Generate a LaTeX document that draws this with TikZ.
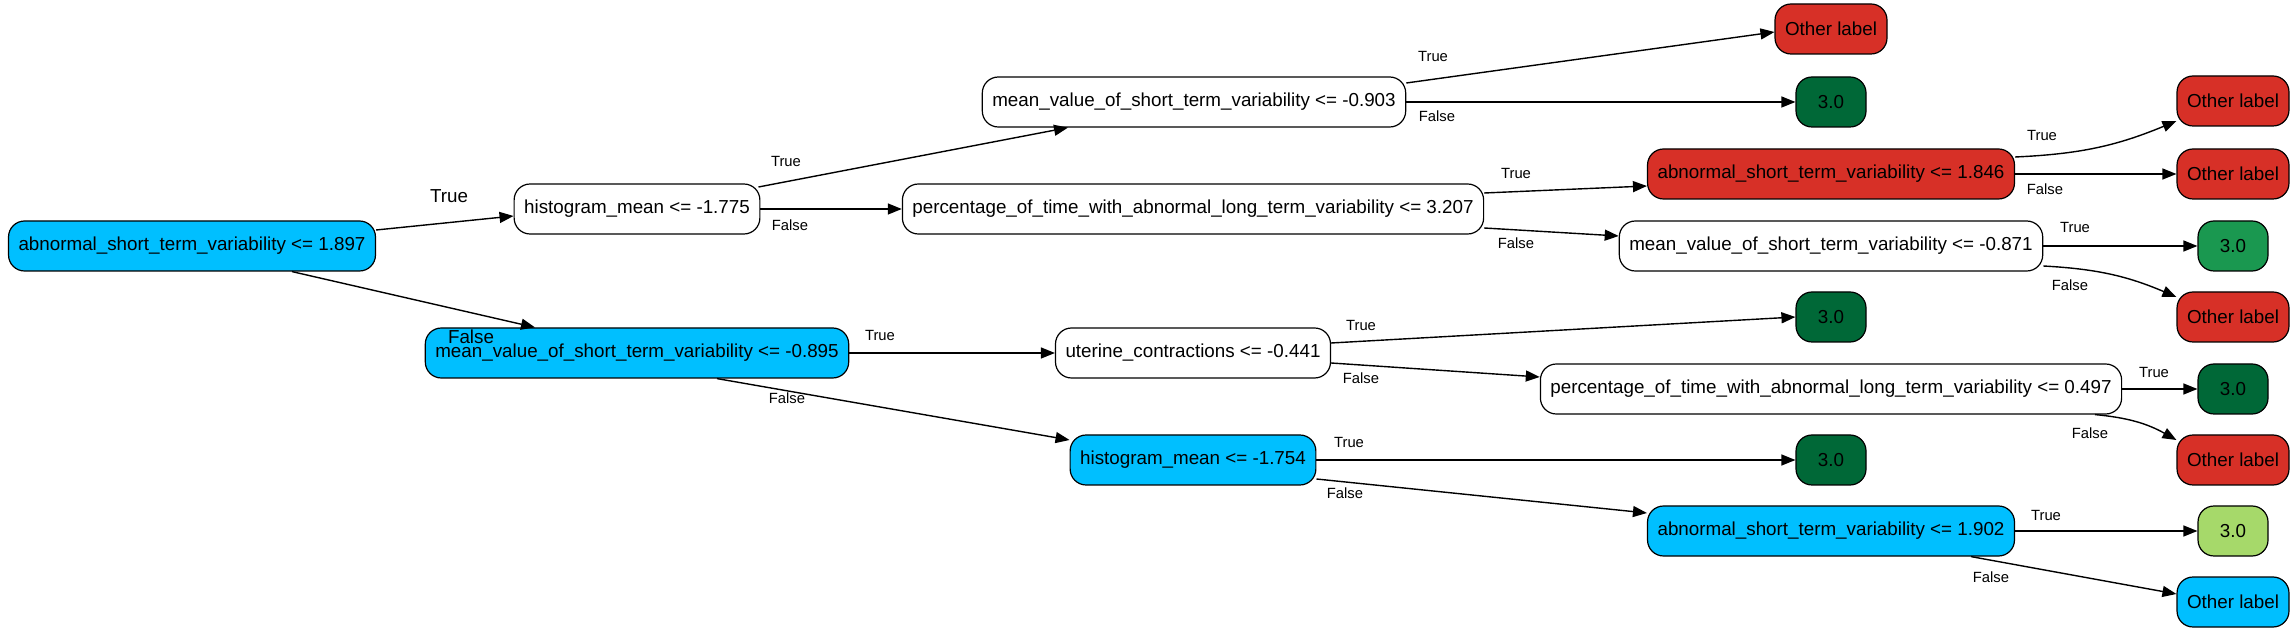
\documentclass[tikz,border=0pt]{standalone}
\usepackage{fontspec}
\setmainfont{Liberation Sans}
\usetikzlibrary{arrows.meta}

\definecolor{skyblue}{HTML}{00BFFF}
\definecolor{redleaf}{HTML}{D73027}
\definecolor{darkgreen}{HTML}{006837}
\definecolor{midgreen}{HTML}{1A9850}
\definecolor{lightgreen}{HTML}{A6D96A}

\tikzset{
    box/.style={draw, line width=0.6pt, rounded corners=8pt, minimum height=25pt,
        inner xsep=5pt, font=\fontsize{9.4}{11}\selectfont},
    leaf/.style={box, minimum width=35pt},
    lbl/.style={font=\fontsize{7.4}{9}\selectfont, inner sep=0pt},
    rootlbl/.style={font=\fontsize{9.4}{11}\selectfont, inner sep=0pt},
    edge/.style={line width=0.7pt, -{Triangle[length=7pt, width=5.5pt]}}
}

\begin{document}
\begin{tikzpicture}[x=0.5pt, y=-0.5pt]
    \useasboundingbox (0,0) rectangle (2295,635);

    % split nodes
    \node[box, fill=skyblue] (root) at (192,246) {abnormal\_short\_term\_variability <= 1.897};
    \node[box] (h1775) at (637,209) {histogram\_mean <= -1.775};
    \node[box, fill=skyblue] (m895) at (637,353) {mean\_value\_of\_short\_term\_variability <= -0.895};
    \node[box] (m903) at (1194,102) {mean\_value\_of\_short\_term\_variability <= -0.903};
    \node[box] (p3207) at (1193,209) {percentage\_of\_time\_with\_abnormal\_long\_term\_variability <= 3.207};
    \node[box] (uter) at (1193,353) {uterine\_contractions <= -0.441};
    \node[box, fill=skyblue] (h1754) at (1193,460) {histogram\_mean <= -1.754};
    \node[box, fill=redleaf] (a1846) at (1831,174) {abnormal\_short\_term\_variability <= 1.846};
    \node[box] (m871) at (1831,246) {mean\_value\_of\_short\_term\_variability <= -0.871};
    \node[box] (p0497) at (1831,389) {percentage\_of\_time\_with\_abnormal\_long\_term\_variability <= 0.497};
    \node[box, fill=skyblue] (a1902) at (1831,531) {abnormal\_short\_term\_variability <= 1.902};

    % leaves
    \node[leaf, fill=redleaf] (oA) at (1831,29) {Other label};
    \node[leaf, fill=darkgreen] (lA) at (1831,102) {3.0};
    \node[leaf, fill=darkgreen] (lB) at (1831,317) {3.0};
    \node[leaf, fill=darkgreen] (lC) at (1831,460) {3.0};
    \node[leaf, fill=redleaf] (oB) at (2233,101) {Other label};
    \node[leaf, fill=redleaf] (oC) at (2233,174) {Other label};
    \node[leaf, fill=midgreen] (lD) at (2233,246) {3.0};
    \node[leaf, fill=redleaf] (oD) at (2233,317) {Other label};
    \node[leaf, fill=darkgreen] (lE) at (2233,389) {3.0};
    \node[leaf, fill=redleaf] (oE) at (2233,460) {Other label};
    \node[leaf, fill=lightgreen] (lF) at (2233,531) {3.0};
    \node[leaf, fill=skyblue] (oF) at (2233,602) {Other label};

    % connectors
    \draw[edge] ([yshift=8pt]root.east) -- ([yshift=-3.5pt]h1775.west);
    \draw[edge] ([xshift=50pt]root.south) -- ([xshift=-51pt]m895.north);
    \draw[edge] ([xshift=-1pt, yshift=11pt]h1775.east) -- ([xshift=-63pt]m903.south);
    \draw[edge] (h1775.east) -- (p3207.west);
    \draw[edge] ([yshift=9.5pt]m903.east) -- ([yshift=-1.5pt]oA.west);
    \draw[edge] (m903.east) -- (lA.west);
    \draw[edge] ([yshift=8pt]p3207.east) -- ([yshift=-6pt]a1846.west);
    \draw[edge] ([yshift=-9.5pt]p3207.east) -- ([yshift=5pt]m871.west);
    \draw[edge] ([yshift=8.5pt]a1846.east) to[bend right=10] ([yshift=-10pt]oB.west);
    \draw[edge] (a1846.east) -- (oC.west);
    \draw[edge] (m871.east) -- (lD.west);
    \draw[edge] ([yshift=-10pt]m871.east) to[bend left=10] ([yshift=10pt]oD.west);
    \draw[edge] (m895.east) -- (uter.west);
    \draw[edge] ([xshift=40pt]m895.south) -- ([yshift=10pt]h1754.west);
    \draw[edge] ([yshift=5pt]uter.east) -- (lB.west);
    \draw[edge] ([yshift=-5pt]uter.east) -- ([yshift=6pt]p0497.west);
    \draw[edge] (p0497.east) -- (lE.west);
    \draw[edge] ([xshift=132pt]p0497.south) to[bend left=12] ([yshift=10pt]oE.west);
    \draw[edge] (h1754.east) -- (lC.west);
    \draw[edge] ([yshift=-9.5pt]h1754.east) -- ([yshift=9pt]a1902.west);
    \draw[edge] (a1902.east) -- (lF.west);
    \draw[edge] ([xshift=70pt]a1902.south) -- ([yshift=4pt]oF.west);

    % branch labels
    \node[rootlbl] (rt) at (449,196) {True};
    \node[rootlbl] (rf) at (471,337) {False};
    \node[lbl] (t1) at (786,161) {True};
    \node[lbl] (f1) at (790,225) {False};
    \node[lbl] (t2) at (880,335) {True};
    \node[lbl] (f2) at (787,398) {False};
    \node[lbl] (t3) at (1433,56) {True};
    \node[lbl] (f3) at (1437,116) {False};
    \node[lbl] (t4) at (1516,173) {True};
    \node[lbl] (f4) at (1516,243) {False};
    \node[lbl] (t5) at (1361,325) {True};
    \node[lbl] (f5) at (1361,378) {False};
    \node[lbl] (t6) at (1349,442) {True};
    \node[lbl] (f6) at (1345,493) {False};
    \node[lbl] (t7) at (2042,135) {True};
    \node[lbl] (f7) at (2045,189) {False};
    \node[lbl] (t8) at (2075,227) {True};
    \node[lbl] (f8) at (2070,285) {False};
    \node[lbl] (t9) at (2154,372) {True};
    \node[lbl] (f9) at (2090,433) {False};
    \node[lbl] (t10) at (2046,515) {True};
    \node[lbl] (f10) at (1991,577) {False};
\end{tikzpicture}
\end{document}
